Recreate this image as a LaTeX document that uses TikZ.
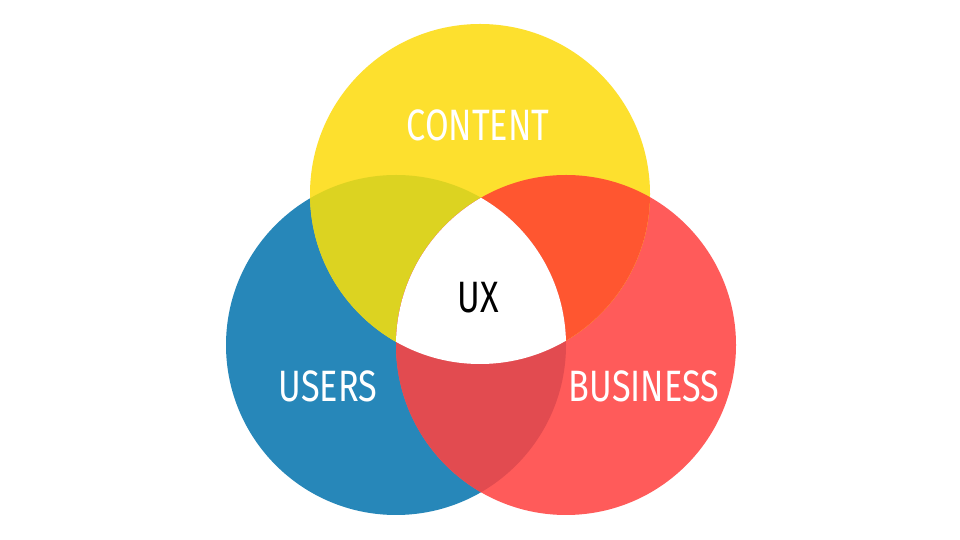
\documentclass[tikz,border=0pt]{standalone}
\usepackage{fontspec}
\setmainfont[FakeStretch=0.78]{Fira Sans}
\definecolor{cyel}{HTML}{FDE02E}
\definecolor{cblu}{HTML}{2787B9}
\definecolor{cred}{HTML}{FF5B5A}
\definecolor{cyb}{HTML}{DCD321}
\definecolor{cyr}{HTML}{FF5630}
\definecolor{cbr}{HTML}{E24B50}
\tikzset{
  set/.style={circle, minimum size=6.8cm, inner sep=0pt, outer sep=0pt},
  lbl/.style={text=white, font=\fontsize{25}{30}\selectfont},
}

\begin{document}
\begin{tikzpicture}
      \useasboundingbox [fill=white] (0,0) rectangle (19.2,10.8);
      %the three sets
      \node [set, fill=cblu] (users) at (7.92, 3.9) {};
      \node [set, fill=cred] (business) at (11.32, 3.9) {};
      \node [set, fill=cyel] (content) at (9.6, 6.92) {};
      %pairwise overlaps
      \begin{scope}
        \clip (content.center) circle (3.4cm);
        \fill [cyb] (users.center) circle (3.4cm);
        \fill [cyr] (business.center) circle (3.4cm);
      \end{scope}
      \begin{scope}
        \clip (users.center) circle (3.4cm);
        \fill [cbr] (business.center) circle (3.4cm);
        %all three
        \clip (business.center) circle (3.4cm);
        \fill [white] (content.center) circle (3.4cm);
      \end{scope}
      %labels
      \node [lbl] (contentlbl) at (9.56, 8.3) {CONTENT};
      \node [lbl] (userslbl) at (6.56, 3.08) {USERS};
      \node [lbl] (businesslbl) at (12.88, 3.08) {BUSINESS};
      \node [lbl, text=black] (ux) at (9.56, 4.84) {UX};
\end{tikzpicture}
\end{document}
